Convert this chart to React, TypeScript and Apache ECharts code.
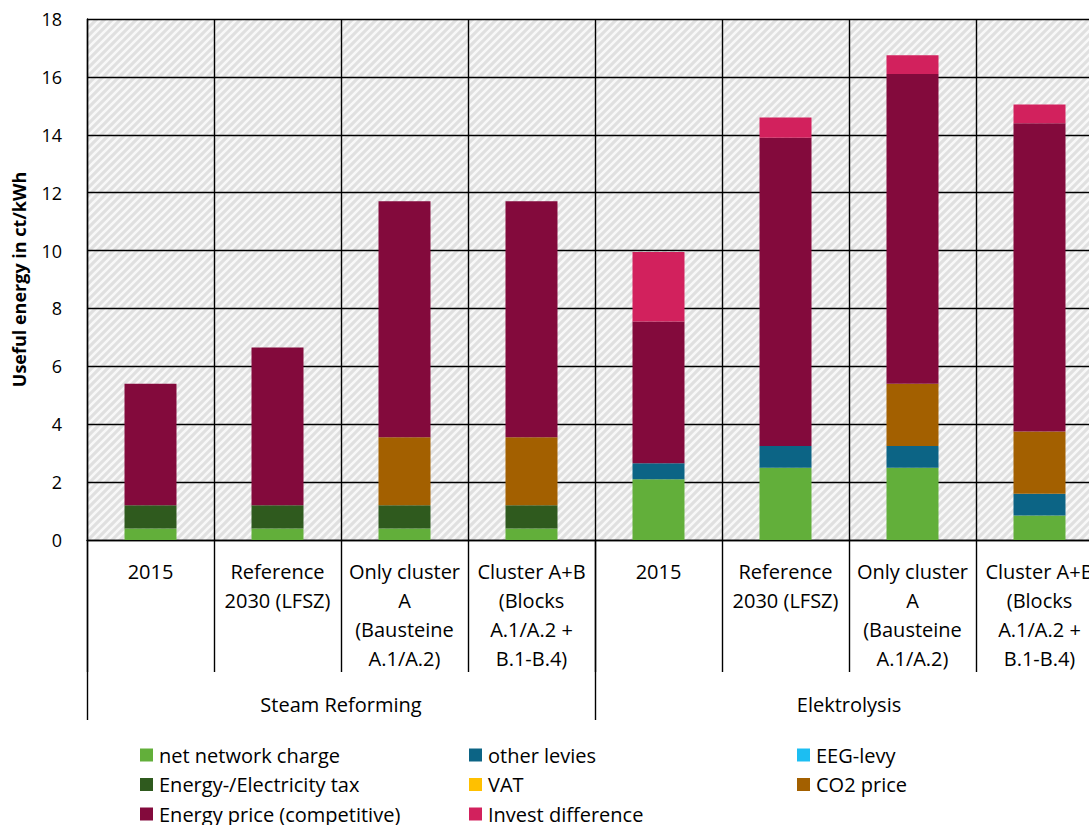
import React, { useEffect, useRef } from "react";
import * as echarts from "echarts";

// Categories (two-level axis: scenario / process)
const scenarios = [
  "2015",
  "Reference\n2030 (LFSZ)",
  "Only cluster\nA\n(Bausteine\nA.1/A.2)",
  "Cluster A+B\n(Blocks\nA.1/A.2 +\nB.1-B.4)",
  "2015",
  "Reference\n2030 (LFSZ)",
  "Only cluster\nA\n(Bausteine\nA.1/A.2)",
  "Cluster A+B\n(Blocks\nA.1/A.2 +\nB.1-B.4)",
];
const processes = ["Steam Reforming", "Elektrolysis"];

// Cost components in ct/kWh (stacked bottom to top)
const netNetworkCharge = [0.4, 0.4, 0.4, 0.4, 2.1, 2.5, 2.5, 0.85];
const energyTax = [0.8, 0.8, 0.8, 0.8, 0, 0, 0, 0];
const otherLevies = [0, 0, 0, 0, 0.55, 0.75, 0.75, 0.75];
const eegLevy = [0, 0, 0, 0, 0, 0, 0, 0];
const vat = [0, 0, 0, 0, 0, 0, 0, 0];
const co2Price = [0, 0, 2.35, 2.35, 0, 0, 2.15, 2.15];
const energyPrice = [4.2, 5.45, 8.15, 8.15, 4.9, 10.65, 10.7, 10.65];
const investDifference = [0, 0, 0, 0, 2.4, 0.7, 0.65, 0.65];

const yTicks = [0, 2, 4, 6, 8, 10, 12, 14, 16, 18];

const FONT = "'Open Sans', 'Noto Sans', sans-serif";

const seriesDefs = [
  { name: "net network charge", data: netNetworkCharge, color: "#62AF3A" },
  { name: "Energy-/Electricity tax", data: energyTax, color: "#2F5A1E" },
  { name: "other levies", data: otherLevies, color: "#0C6485" },
  { name: "EEG-levy", data: eegLevy, color: "#1CBEF2" },
  { name: "VAT", data: vat, color: "#FFC000" },
  { name: "CO2 price", data: co2Price, color: "#A36000" },
  { name: "Energy price (competitive)", data: energyPrice, color: "#830A3C" },
  { name: "Invest difference", data: investDifference, color: "#D2215D" },
];

// Light diagonal hatch used as the plot background
function makeHatch(): HTMLCanvasElement {
  const c = document.createElement("canvas");
  c.width = 8;
  c.height = 8;
  const ctx = c.getContext("2d")!;
  ctx.fillStyle = "#e0e0e0";
  ctx.fillRect(0, 0, 8, 8);
  ctx.strokeStyle = "#f8f8f8";
  ctx.lineWidth = 2.6;
  ctx.beginPath();
  ctx.moveTo(-2, 10);
  ctx.lineTo(10, -2);
  ctx.moveTo(-6, 6);
  ctx.lineTo(6, -6);
  ctx.moveTo(2, 14);
  ctx.lineTo(14, 2);
  ctx.stroke();
  return c;
}

const legendText = { fontSize: 20, lineHeight: 20, color: "#000", fontFamily: FONT, padding: [0, 0, 0, 1] };

export default function App() {
  const ref = useRef<HTMLDivElement>(null);

  useEffect(() => {
    if (!ref.current) return;
    const chart = echarts.init(ref.current, null, { renderer: "svg" });
    const hatch = makeHatch();
    const legendCol = (names: string[], left: number) => ({
      orient: "vertical",
      left,
      top: 745,
      height: 80,
      padding: 0,
      itemGap: 9.5,
      itemWidth: 13,
      itemHeight: 13,
      icon: "rect",
      textStyle: legendText,
      selectedMode: false,
      data: names,
    });
    chart.setOption({
      animation: false,
      textStyle: { fontFamily: FONT },
      grid: {
        left: 87,
        top: 19,
        right: -14,
        bottom: 285,
        outerBoundsMode: "none",
        show: true,
        borderWidth: 0,
        backgroundColor: {
          image: hatch,
          repeat: "repeat",
          imageWidth: 8,
          imageHeight: 8,
        } as any,
      },
      legend: [
        legendCol(["net network charge", "Energy-/Electricity tax", "Energy price (competitive)"], 140),
        legendCol(["other levies", "VAT", "Invest difference"], 469),
        legendCol(["EEG-levy", "CO2 price"], 797),
      ],
      xAxis: [
        {
          type: "category",
          data: scenarios,
          position: "bottom",
          axisLine: { show: true, lineStyle: { color: "#000", width: 1.4 } },
          axisTick: { show: true, interval: 0, length: 132, lineStyle: { color: "#000", width: 1.4 } },
          splitLine: { show: true, interval: 0, lineStyle: { color: "#000", width: 1.4 } },
          axisLabel: {
            interval: 0,
            margin: 17,
            fontSize: 20,
            lineHeight: 29,
            color: "#000",
            fontFamily: FONT,
          },
        },
        {
          type: "category",
          data: processes,
          position: "bottom",
          axisLine: { show: false },
          axisTick: { show: true, interval: 0, length: 180, lineStyle: { color: "#000", width: 1.4 } },
          splitLine: { show: false },
          axisLabel: {
            interval: 0,
            margin: 152,
            fontSize: 20,
            lineHeight: 24,
            color: "#000",
            fontFamily: FONT,
          },
        },
      ],
      yAxis: {
        type: "value",
        min: yTicks[0],
        max: yTicks[yTicks.length - 1],
        interval: yTicks[1] - yTicks[0],
        name: "Useful energy in ct/kWh",
        nameLocation: "middle",
        nameGap: 59,
        nameTextStyle: { fontSize: 18, fontWeight: "bold", color: "#000", fontFamily: FONT },
        axisLine: { show: true, lineStyle: { color: "#000", width: 1.4 } },
        axisTick: { show: false },
        splitLine: { show: true, lineStyle: { color: "#000", width: 1.4 } },
        axisLabel: { fontSize: 18, color: "#000", margin: 25, fontFamily: FONT },
      },
      series: seriesDefs.map((s) => ({
        name: s.name,
        type: "bar",
        stack: "cost",
        xAxisIndex: 0,
        barWidth: 52,
        data: s.data,
        itemStyle: { color: s.color },
        emphasis: { disabled: true },
      })),
    });
    return () => chart.dispose();
  }, []);

  return (
    <div
      ref={ref}
      style={{ position: "fixed", left: 0, top: 0, width: 1089, height: 825, background: "#fff" }}
    />
  );
}
